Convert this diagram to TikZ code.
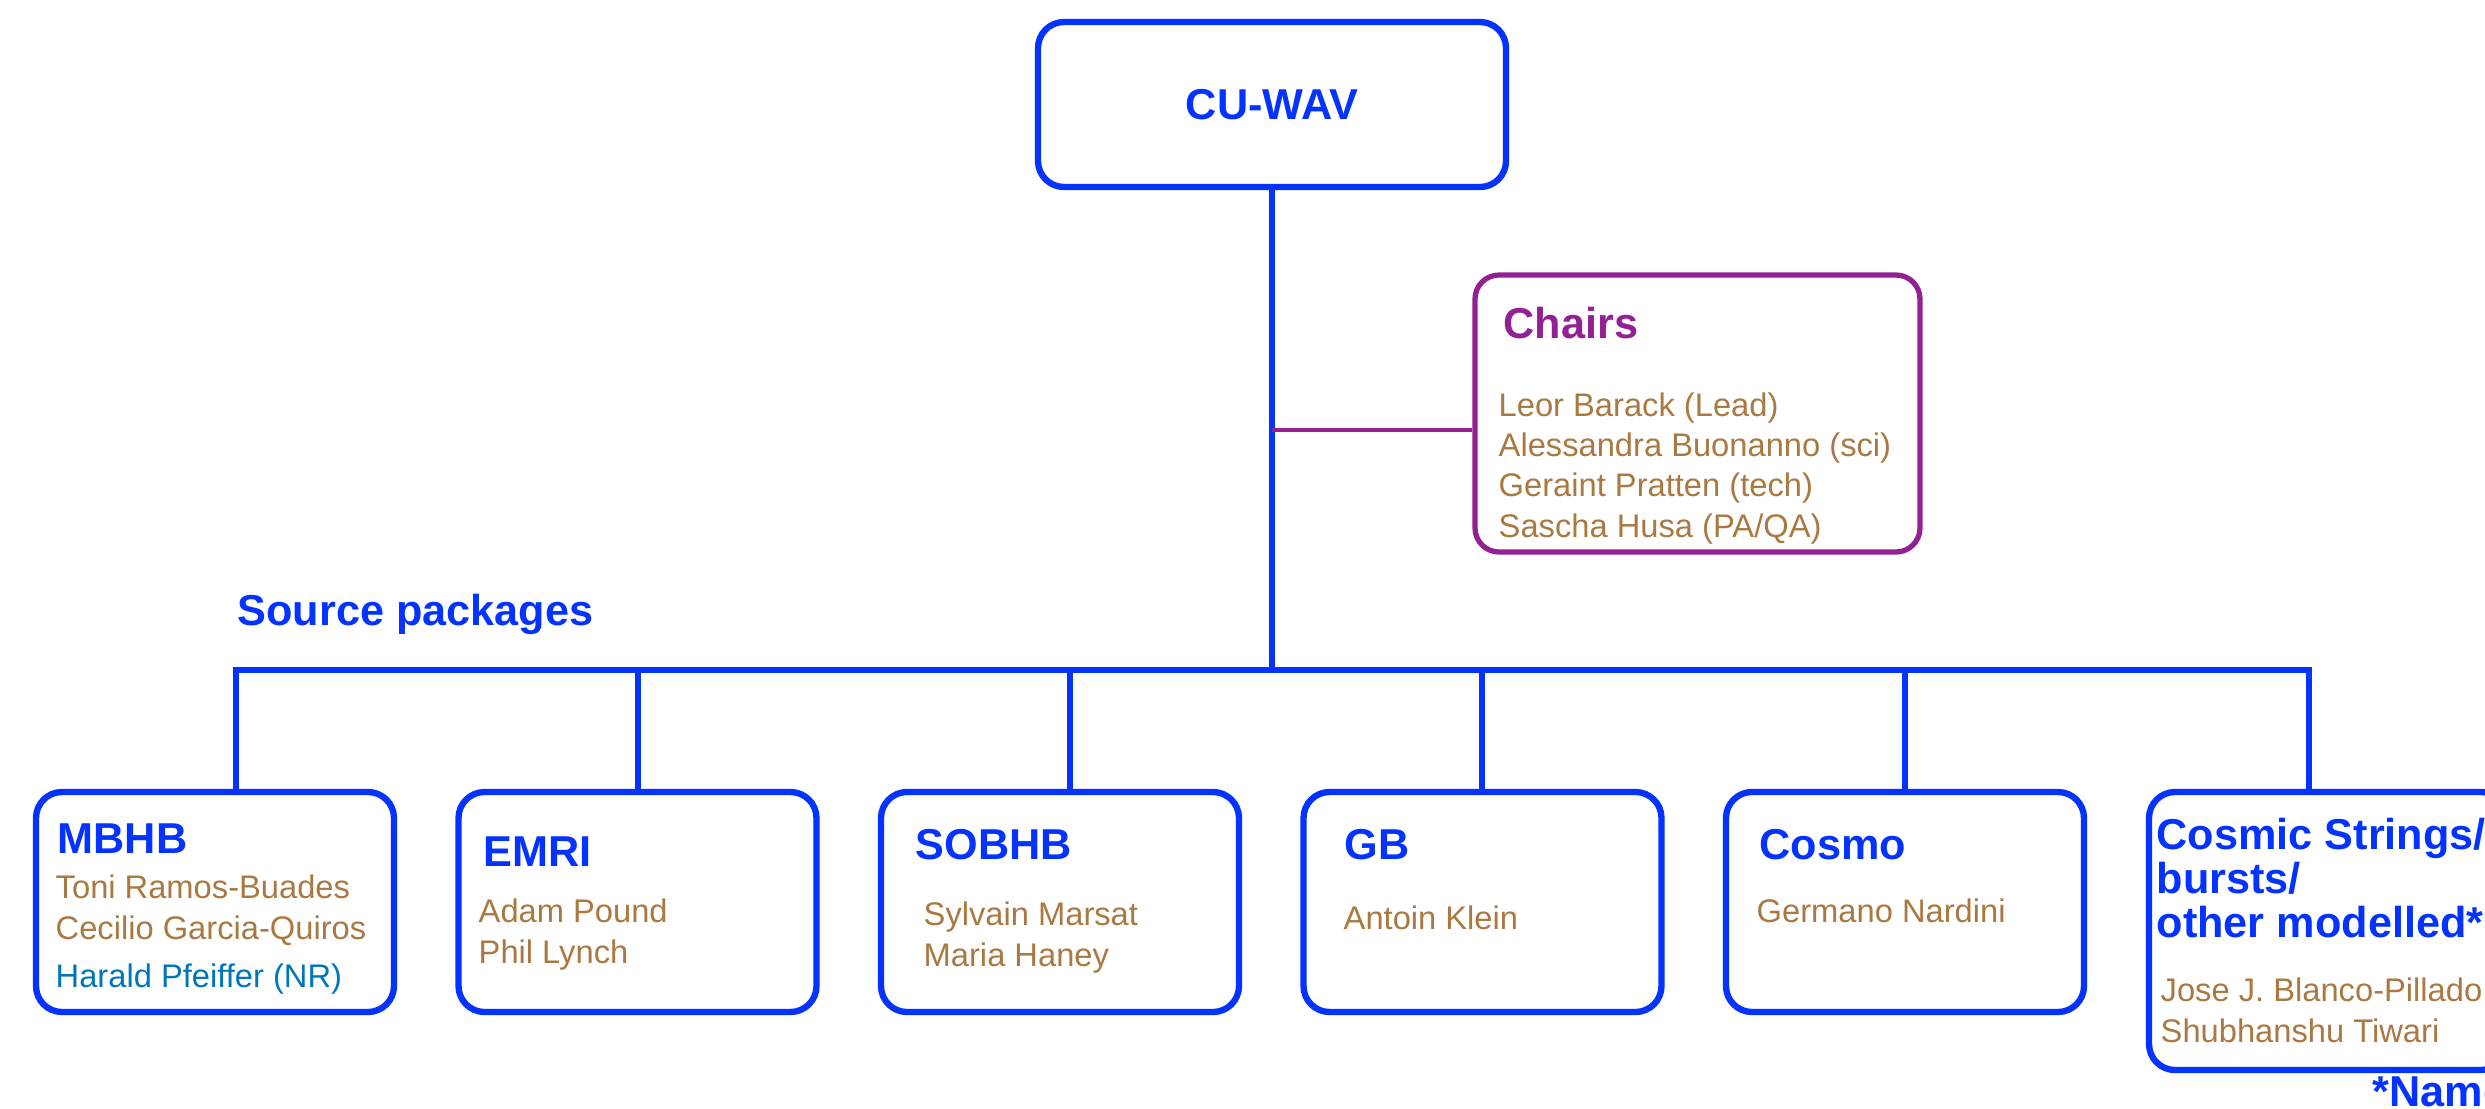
\documentclass[tikz,border=0pt]{standalone}
\usepackage{fontspec}
\setmainfont{Liberation Sans}
\usetikzlibrary{positioning}

\definecolor{wavblue}{HTML}{0433FF}
\definecolor{chairpurple}{HTML}{942193}
\definecolor{nametan}{HTML}{AA7942}
\definecolor{nrblue}{HTML}{0076BA}

\tikzset{
  wpbox/.style={draw=wavblue, line width=1.8pt, rounded corners=0.26cm,
    minimum width=3.58cm, minimum height=2.2cm, inner sep=0pt},
  topbox/.style={wpbox, minimum width=4.68cm, minimum height=1.65cm,
    text=wavblue, font=\fontsize{12.3}{12.7}\selectfont\bfseries},
  chairbox/.style={draw=chairpurple, line width=1.5pt, rounded corners=0.24cm,
    minimum width=4.45cm, minimum height=2.77cm, inner sep=0pt},
  ptitle/.style={anchor=base west, inner sep=0pt, align=left, text=wavblue,
    font=\fontsize{12.3}{12.7}\selectfont\bfseries},
  pnames/.style={anchor=base west, inner sep=0pt, align=left, text=nametan,
    font=\fontsize{9.3}{11.4}\selectfont},
  link/.style={draw=wavblue, line width=1.8pt},
  clink/.style={draw=chairpurple, line width=1.1pt},
}

\begin{document}
\begin{tikzpicture}
\useasboundingbox (0,0) rectangle (24.85,-11.08);

% top of the tree
\node[topbox] (cuwav) at (12.72,-1.045) {CU-WAV};

\node[chairbox] (chairs) at (16.975,-4.135) {};
\node[ptitle, text=chairpurple] (chairstitle) at (15.03,-3.38) {Chairs};
% multi-line nodes: base is the last line
\node[pnames] (chairnames) at (14.98,-5.37) {Leor Barack (Lead)\\Alessandra Buonanno (sci)\\Geraint Pratten (tech)\\Sascha Husa (PA/QA)};

\node[ptitle] (srcpk) at (2.37,-6.25) {Source packages};

% source package boxes
\node[wpbox] (mbhb) at (2.15,-9.02) {};
\node[wpbox] (emri) at (6.375,-9.02) {};
\node[wpbox] (sobhb) at (10.60,-9.02) {};
\node[wpbox] (gb) at (14.825,-9.02) {};
\node[wpbox] (cosmo) at (19.05,-9.02) {};
\node[wpbox, minimum height=2.78cm] (cosmic) at (23.28,-9.31) {};

\node[ptitle] (mbhbtitle) at (0.57,-8.53) {MBHB};
\node[pnames] (mbhbnames) at (0.55,-9.39) {Toni Ramos-Buades\\Cecilio Garcia-Quiros};
\node[pnames, text=nrblue] (mbhbnr) at (0.55,-9.87) {Harald Pfeiffer (NR)};

\node[ptitle] (emrititle) at (4.83,-8.66) {EMRI};
\node[pnames] (emrinames) at (4.78,-9.63) {Adam Pound\\Phil Lynch};

\node[ptitle] (sobhbtitle) at (9.15,-8.59) {SOBHB};
\node[pnames] (sobhbnames) at (9.23,-9.66) {Sylvain Marsat\\Maria Haney};

\node[ptitle] (gbtitle) at (13.44,-8.59) {GB};
\node[pnames] (gbnames) at (13.43,-9.29) {Antoin Klein};

\node[ptitle] (cosmotitle) at (17.59,-8.59) {Cosmo};
\node[pnames] (cosmonames) at (17.56,-9.22) {Germano Nardini};

\node[ptitle, font=\fontsize{12.3}{12.5}\selectfont\bfseries] (cosmictitle) at (21.56,-9.37) {Cosmic Strings/\\bursts/\\other modelled*};
\node[pnames] (cosmicnames) at (21.60,-10.42) {Jose J. Blanco-Pillado\\Shubhanshu Tiwari};

\node[ptitle] (namenote) at (23.72,-11.06) {*Name};

% connectors
\coordinate (j1) at (2.36,-6.70);
\coordinate (j2) at (6.38,-6.70);
\coordinate (j3) at (10.70,-6.70);
\coordinate (j4) at (14.82,-6.70);
\coordinate (j5) at (19.05,-6.70);
\coordinate (j6) at (23.09,-6.70);
\coordinate (chairjoin) at (12.72,-4.30);

\draw[link] (cuwav.south) -- (cuwav.south |- j1);
\draw[link] (j1 |- mbhb.north) -- (j1) -- (j6) -- (j6 |- cosmic.north);
\foreach \j/\b in {j2/emri, j3/sobhb, j4/gb, j5/cosmo}
  \draw[link] (\j) -- (\j |- \b.north);
\draw[clink] (cuwav.south |- chairjoin) -- (chairs.west |- chairjoin);

\end{tikzpicture}
\end{document}
